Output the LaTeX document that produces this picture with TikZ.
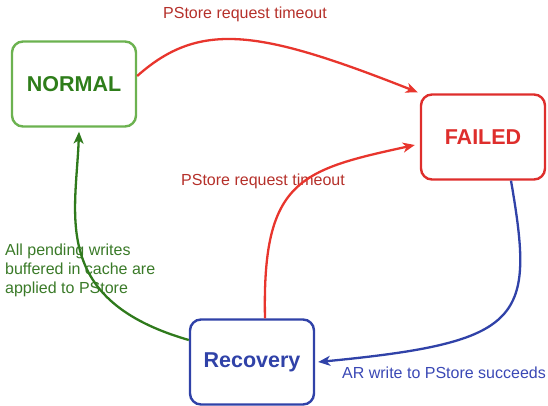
\documentclass[tikz,border=0pt]{standalone}
\usepackage{fontspec}
\setmainfont{Liberation Sans}
\usetikzlibrary{arrows.meta}
\definecolor{normalgreen}{HTML}{6CB250}
\definecolor{normaltext}{HTML}{2E7D1A}
\definecolor{failedred}{HTML}{DE2E2C}
\definecolor{arrowred}{HTML}{E8352D}
\definecolor{labelred}{HTML}{B5302A}
\definecolor{recblue}{HTML}{3042A8}
\definecolor{labelblue}{HTML}{3A48B5}
\definecolor{arrowgreen}{HTML}{2F7A1C}
\definecolor{labelgreen}{HTML}{3A7A28}
\tikzset{
	state/.style={draw, line width=2.4pt, rounded corners=11pt, minimum width=124pt, minimum height=85pt, inner sep=0pt, font=\fontsize{21.5}{25}\selectfont\bfseries},
	trans/.style={line width=2.3pt, -{Stealth[length=12pt,width=10pt,inset=3.5pt]}},
	lbl/.style={font=\fontsize{16}{19}\selectfont, inner sep=0pt}
}
\begin{document}
\begin{tikzpicture}[x=1pt,y=-1pt]
	\useasboundingbox (0,0) rectangle (548,406);
	\node[state,draw=normalgreen,text=normaltext] (normal) at (74,84) {NORMAL};
	\node[state,draw=failedred,text=failedred] (failed) at (483,137) {FAILED};
	\node[state,draw=recblue,text=recblue] (recovery) at (252,362) {Recovery};
	\node[lbl,text=labelred] (timeout1) at (245,14) {PStore request timeout};
	\node[lbl,text=labelred] (timeout2) at (263,181) {PStore request timeout};
	\node[lbl,text=labelgreen,align=left,anchor=west] (applied) at (5,270) {All pending writes\\buffered in cache are\\applied to PStore};
	\node[lbl,text=labelblue,anchor=west] (succeeds) at (342,373) {AR write to PStore succeeds};
	\draw[trans,arrowred] ([yshift=8pt]normal.east) .. controls (200,20) and (260,30) .. ([shift={(-2,-1)}]failed.north west);
	\draw[trans,arrowred] ([xshift=13pt]recovery.north) .. controls (262,180) and (300,170) .. ([shift={(-5,8)}]failed.west);
	\draw[trans,recblue] ([xshift=28pt]failed.south) .. controls (535,320) and (525,342) .. ([xshift=3pt]recovery.east);
	\draw[trans,arrowgreen] ([yshift=22pt]recovery.west) .. controls (50,300) and (76,215) .. ([shift={(5,4)}]normal.south);
\end{tikzpicture}
\end{document}
